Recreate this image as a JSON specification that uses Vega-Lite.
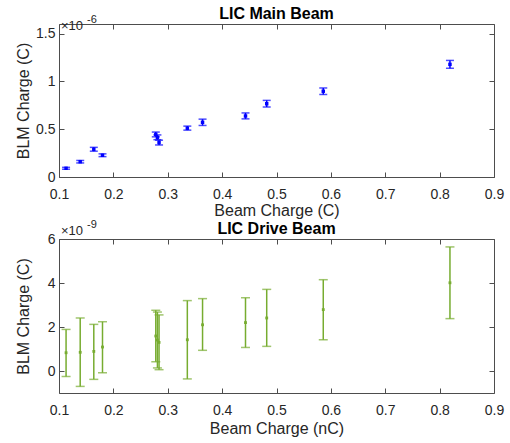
{
  "$schema": "https://vega.github.io/schema/vega-lite/v6.json",
  "padding": {"left": 15, "top": 5, "right": 8, "bottom": 2},
  "spacing": 1,
  "config": {
    "font": "Liberation Sans",
    "view": {"stroke": null},
    "axis": {
      "domainColor": "#4d4d4d",
      "tickColor": "#4d4d4d",
      "labelColor": "#262626",
      "titleColor": "#262626",
      "labelFontSize": 14,
      "titleFontSize": 16,
      "titleFontWeight": "normal",
      "tickSize": -5,
      "grid": false,
      "labelFlush": false,
      "labelPadding": 9
    },
    "axisX": {"labelPadding": 15},
    "title": {"fontSize": 16, "fontWeight": "bold", "color": "#000000"}
  },
  "datasets": {
    "main": [
      {"q": 0.113, "y": 0.091, "lo": 0.081, "hi": 0.101},
      {"q": 0.139, "y": 0.160, "lo": 0.147, "hi": 0.173},
      {"q": 0.164, "y": 0.290, "lo": 0.270, "hi": 0.310},
      {"q": 0.180, "y": 0.227, "lo": 0.213, "hi": 0.242},
      {"q": 0.278, "y": 0.445, "lo": 0.420, "hi": 0.470},
      {"q": 0.281, "y": 0.415, "lo": 0.390, "hi": 0.440},
      {"q": 0.284, "y": 0.360, "lo": 0.335, "hi": 0.385},
      {"q": 0.336, "y": 0.510, "lo": 0.490, "hi": 0.532},
      {"q": 0.364, "y": 0.572, "lo": 0.539, "hi": 0.605},
      {"q": 0.443, "y": 0.638, "lo": 0.608, "hi": 0.670},
      {"q": 0.482, "y": 0.766, "lo": 0.732, "hi": 0.801},
      {"q": 0.586, "y": 0.897, "lo": 0.863, "hi": 0.931},
      {"q": 0.819, "y": 1.178, "lo": 1.137, "hi": 1.219}
    ],
    "drive": [
      {"q": 0.113, "y": 0.83, "lo": -0.25, "hi": 1.89},
      {"q": 0.139, "y": 0.85, "lo": -0.70, "hi": 2.41},
      {"q": 0.164, "y": 0.89, "lo": -0.38, "hi": 2.12},
      {"q": 0.180, "y": 1.09, "lo": -0.08, "hi": 2.24},
      {"q": 0.278, "y": 1.59, "lo": 0.42, "hi": 2.76},
      {"q": 0.281, "y": 1.41, "lo": 0.14, "hi": 2.68},
      {"q": 0.284, "y": 1.30, "lo": 0.06, "hi": 2.55},
      {"q": 0.336, "y": 1.42, "lo": -0.36, "hi": 3.20},
      {"q": 0.364, "y": 2.10, "lo": 0.94, "hi": 3.29},
      {"q": 0.443, "y": 2.20, "lo": 1.07, "hi": 3.33},
      {"q": 0.482, "y": 2.41, "lo": 1.12, "hi": 3.71},
      {"q": 0.586, "y": 2.79, "lo": 1.42, "hi": 4.15},
      {"q": 0.819, "y": 4.01, "lo": 2.38, "hi": 5.64}
    ],
    "exp6": [{"q": 0.1, "y": 1.5, "a": "×10", "b": "-6"}],
    "exp9": [{"q": 0.1, "y": 6, "a": "×10", "b": "-9"}]
  },
  "vconcat": [
    {
      "title": {"text": "LIC Main Beam", "offset": -8},
      "width": 435,
      "height": 153,
      "resolve": {"axis": {"x": "independent", "y": "independent"}},
      "layer": [
        {
          "data": {"name": "main"},
          "layer": [
            {
              "mark": {"type": "rule", "color": "#0000ff", "strokeWidth": 1.5},
              "encoding": {
                "x": {"field": "q", "type": "quantitative", "scale": {"domain": [0.1, 0.9]}, "axis": {"values": [0.1,0.2,0.3,0.4,0.5,0.6,0.7,0.8,0.9], "format": ".1f", "title": "Beam Charge (C)", "titlePadding": 1}},
                "y": {"field": "lo", "type": "quantitative", "scale": {"domain": [0, 1.5]}, "axis": {"values": [0, 0.5, 1, 1.5], "format": "~g", "title": "BLM Charge (C)", "titlePadding": 4}},
                "y2": {"field": "hi"}
              }
            },
            {
              "mark": {"type": "tick", "orient": "horizontal", "color": "#0000ff", "size": 8, "thickness": 1.5},
              "encoding": {
                "x": {"field": "q", "type": "quantitative", "title": "Beam Charge (C)"},
                "y": {"field": "lo", "type": "quantitative", "title": "BLM Charge (C)"}
              }
            },
            {
              "mark": {"type": "tick", "orient": "horizontal", "color": "#0000ff", "size": 8, "thickness": 1.5},
              "encoding": {
                "x": {"field": "q", "type": "quantitative", "title": "Beam Charge (C)"},
                "y": {"field": "hi", "type": "quantitative", "title": "BLM Charge (C)"}
              }
            },
            {
              "mark": {"type": "square", "color": "#0000ff", "size": 12, "opacity": 1},
              "encoding": {
                "x": {"field": "q", "type": "quantitative", "title": "Beam Charge (C)"},
                "y": {"field": "y", "type": "quantitative", "title": "BLM Charge (C)"}
              }
            }
          ]
        },
        {
          "data": {"name": "exp6"},
          "layer": [
            {
              "mark": {"type": "text", "align": "left", "baseline": "alphabetic", "dx": 2, "dy": -4, "fontSize": 13, "color": "#262626"},
              "encoding": {
                "x": {"field": "q", "type": "quantitative", "axis": {"orient": "top", "labels": false, "title": null, "values": [0.1,0.2,0.3,0.4,0.5,0.6,0.7,0.8,0.9]}},
                "y": {"field": "y", "type": "quantitative", "axis": {"orient": "right", "labels": false, "title": null, "values": [0, 0.5, 1, 1.5]}},
                "text": {"field": "a"}
              }
            },
            {
              "mark": {"type": "text", "align": "left", "baseline": "alphabetic", "dx": 28, "dy": -11, "fontSize": 11, "color": "#262626"},
              "encoding": {
                "x": {"field": "q", "type": "quantitative"},
                "y": {"field": "y", "type": "quantitative"},
                "text": {"field": "b"}
              }
            }
          ]
        }
      ]
    },
    {
      "title": {"text": "LIC Drive Beam", "offset": -18},
      "width": 435,
      "height": 154,
      "resolve": {"axis": {"x": "independent", "y": "independent"}},
      "layer": [
        {
          "data": {"name": "drive"},
          "layer": [
            {
              "mark": {"type": "rule", "color": "#77ac30", "strokeWidth": 1.5},
              "encoding": {
                "x": {"field": "q", "type": "quantitative", "scale": {"domain": [0.1, 0.9]}, "axis": {"values": [0.1,0.2,0.3,0.4,0.5,0.6,0.7,0.8,0.9], "format": ".1f", "title": "Beam Charge (nC)", "titlePadding": 3}},
                "y": {"field": "lo", "type": "quantitative", "scale": {"domain": [-1, 6]}, "axis": {"values": [0, 2, 4, 6], "format": "~g", "title": "BLM Charge (C)", "titlePadding": 16}},
                "y2": {"field": "hi"}
              }
            },
            {
              "mark": {"type": "tick", "orient": "horizontal", "color": "#77ac30", "size": 9, "thickness": 1.5},
              "encoding": {
                "x": {"field": "q", "type": "quantitative", "title": "Beam Charge (nC)"},
                "y": {"field": "lo", "type": "quantitative", "title": "BLM Charge (C)"}
              }
            },
            {
              "mark": {"type": "tick", "orient": "horizontal", "color": "#77ac30", "size": 9, "thickness": 1.5},
              "encoding": {
                "x": {"field": "q", "type": "quantitative", "title": "Beam Charge (nC)"},
                "y": {"field": "hi", "type": "quantitative", "title": "BLM Charge (C)"}
              }
            },
            {
              "mark": {"type": "square", "color": "#77ac30", "size": 8, "opacity": 1},
              "encoding": {
                "x": {"field": "q", "type": "quantitative", "title": "Beam Charge (nC)"},
                "y": {"field": "y", "type": "quantitative", "title": "BLM Charge (C)"}
              }
            }
          ]
        },
        {
          "data": {"name": "exp9"},
          "layer": [
            {
              "mark": {"type": "text", "align": "left", "baseline": "alphabetic", "dx": 2, "dy": -4, "fontSize": 13, "color": "#262626"},
              "encoding": {
                "x": {"field": "q", "type": "quantitative", "axis": {"orient": "top", "labels": false, "title": null, "values": [0.1,0.2,0.3,0.4,0.5,0.6,0.7,0.8,0.9]}},
                "y": {"field": "y", "type": "quantitative", "axis": {"orient": "right", "labels": false, "title": null, "values": [0, 2, 4, 6]}},
                "text": {"field": "a"}
              }
            },
            {
              "mark": {"type": "text", "align": "left", "baseline": "alphabetic", "dx": 28, "dy": -11, "fontSize": 11, "color": "#262626"},
              "encoding": {
                "x": {"field": "q", "type": "quantitative"},
                "y": {"field": "y", "type": "quantitative"},
                "text": {"field": "b"}
              }
            }
          ]
        }
      ]
    }
  ]
}
